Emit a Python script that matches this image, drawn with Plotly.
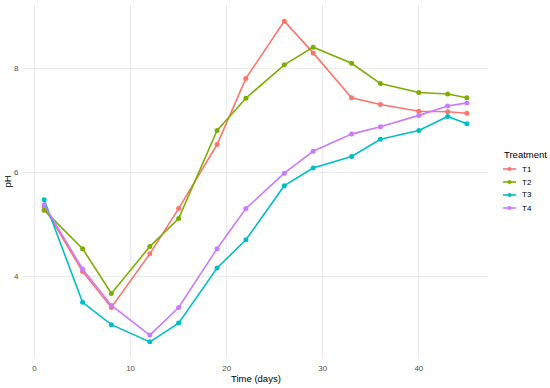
import plotly.graph_objects as go

time_days = [1, 5, 8, 12, 15, 19, 22, 26, 29, 33, 36, 40, 43, 45]
t1 = [5.33, 4.09, 3.40, 4.43, 5.30, 6.53, 7.80, 8.90, 8.29, 7.43, 7.30, 7.17, 7.16, 7.13]
t2 = [5.27, 4.53, 3.67, 4.57, 5.11, 6.80, 7.42, 8.06, 8.40, 8.09, 7.70, 7.53, 7.50, 7.43]
t3 = [5.47, 3.50, 3.07, 2.74, 3.10, 4.16, 4.70, 5.74, 6.08, 6.30, 6.63, 6.80, 7.07, 6.93]
t4 = [5.37, 4.14, 3.44, 2.87, 3.40, 4.53, 5.30, 5.98, 6.40, 6.73, 6.87, 7.09, 7.27, 7.33]
series_names = ["T1", "T2", "T3", "T4"]
series_values = [t1, t2, t3, t4]
colors = ["#F8766D", "#7CAE00", "#00BFC4", "#C77CFF"]
x_ticks = [0, 10, 20, 30, 40]
y_ticks = [4, 6, 8]

W, H = 550, 388
ML, MR, MT, MB = 23, 62, 5, 30
PW, PH = W - ML - MR, H - MT - MB

def px_x(px):
    return (px - ML) / PW

def px_y(py):
    return 1 - (py - MT) / PH

font_family = "Liberation Sans, Arial, Helvetica, sans-serif"
TITLE_SIZE = 9.5
TICK_SIZE = 8
LEG_SIZE = 8

fig = go.Figure()
for name, vals, c in zip(series_names, series_values, colors):
    fig.add_trace(go.Scatter(
        x=time_days, y=vals, name=name, mode="lines+markers",
        line=dict(color=c, width=1.6),
        marker=dict(color=c, size=5),
        showlegend=False,
    ))

annotations = []
shapes = []
# axis titles
annotations.append(dict(text="Time (days)", xref="paper", yref="paper",
                        x=0.5, y=px_y(378.5), xanchor="center", yanchor="middle",
                        showarrow=False, font=dict(size=TITLE_SIZE, color="black", family=font_family)))
annotations.append(dict(text="pH", xref="paper", yref="paper",
                        x=px_x(7), y=0.5, xanchor="center", yanchor="middle", textangle=-90,
                        showarrow=False, font=dict(size=TITLE_SIZE, color="black", family=font_family)))
# legend (drawn manually to match compact ggplot spacing)
annotations.append(dict(text="Treatment", xref="paper", yref="paper",
                        x=px_x(502), y=px_y(154), xanchor="left", yanchor="middle",
                        showarrow=False, font=dict(size=TITLE_SIZE, color="black", family=font_family)))
legend_y = [169, 182, 195, 208]
for name, c, ly in zip(series_names, colors, legend_y):
    shapes.append(dict(type="line", xref="paper", yref="paper",
                       x0=px_x(503), x1=px_x(516), y0=px_y(ly), y1=px_y(ly),
                       line=dict(color=c, width=1.6)))
    shapes.append(dict(type="circle", xref="paper", yref="paper",
                       x0=px_x(507.5), x1=px_x(511.5), y0=px_y(ly - 2), y1=px_y(ly + 2),
                       fillcolor=c, line=dict(color=c, width=0)))
    annotations.append(dict(text=name, xref="paper", yref="paper",
                            x=px_x(519.5), y=px_y(ly), xanchor="left", yanchor="middle",
                            showarrow=False, font=dict(size=LEG_SIZE, color="black", family=font_family)))

fig.update_layout(
    width=W, height=H,
    margin=dict(l=ML, r=MR, t=MT, b=MB),
    paper_bgcolor="white", plot_bgcolor="white",
    font=dict(family=font_family, size=TICK_SIZE, color="#4D4D4D"),
    showlegend=False,
    annotations=annotations,
    shapes=shapes,
    xaxis=dict(
        range=[-1.2, 47.2], tickvals=x_ticks,
        showgrid=True, gridcolor="#EBEBEB", gridwidth=1,
        zeroline=False, showline=False,
        ticks="outside", ticklen=2, tickcolor="rgba(0,0,0,0)",
        automargin=False,
        tickfont=dict(size=TICK_SIZE, color="#4D4D4D"),
    ),
    yaxis=dict(
        range=[2.43, 9.21], tickvals=y_ticks,
        showgrid=True, gridcolor="#EBEBEB", gridwidth=1,
        zeroline=False, showline=False,
        ticks="outside", ticklen=2, tickcolor="rgba(0,0,0,0)",
        automargin=False,
        tickfont=dict(size=TICK_SIZE, color="#4D4D4D"),
    ),
)

fig.write_html("out.html", config={"displayModeBar": False},
               post_script="document.body.style.margin='0';document.body.style.overflow='hidden';")
